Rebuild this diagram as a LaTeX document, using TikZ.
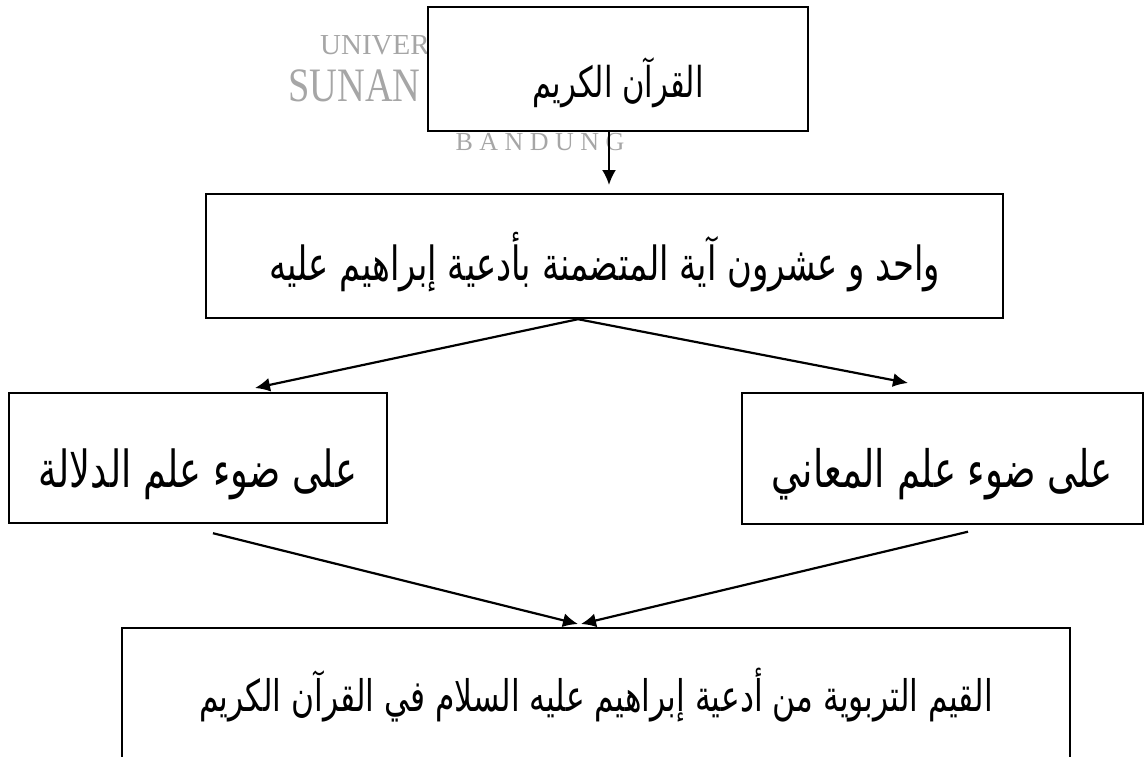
\documentclass[tikz,border=0pt]{standalone}
\usepackage{fontspec}
\usetikzlibrary{arrows.meta}
\newfontfamily\arabicfont[Script=Arabic, FakeStretch=0.72]{DejaVu Sans}
\newfontfamily\markfont{Liberation Serif}
\TeXXeTstate=1
\newcommand{\artext}[1]{\arabicfont\beginR #1\endR}

\begin{document}
\begin{tikzpicture}[x=1pt, y=-1pt]
  \tikzstyle{every node} = [inner sep = 0pt]
  \tikzset{box/.style = {draw, line width = 2.4pt, fill = white,
                         text height = 62pt, text depth = 4pt,
                         font = \fontsize{#1}{#1}\selectfont},
           box/.default = 40,
           arrow/.style = {-{Latex[length = 15pt, width = 14pt]}, line width = 2.2pt},
           wmark/.style = {text = black!35, font = \markfont}}
  \useasboundingbox (0,0) rectangle (1145,757);
  \clip (0,0) rectangle (1145,757);

  % watermark behind the top box
  \node[wmark, anchor = base west, font = \markfont\fontsize{29}{31}\selectfont] (wm1) at (320,55) {UNIVER};
  \node[wmark, anchor = base west, font = \markfont\fontsize{48}{50}\selectfont\addfontfeature{FakeStretch = 0.8}] (wm2) at (288,102) {SUNAN};
  \node[wmark, anchor = base, font = \markfont\fontsize{26}{30}\selectfont\addfontfeature{LetterSpace = 25}] (wm3) at (540,150) {BANDUNG};

  % boxes
  \node[box = 42.5, minimum width = 380pt, minimum height = 124pt] (quran) at (618,69) {\artext{القرآن الكريم}};
  \node[box = 47, minimum width = 797pt, minimum height = 124pt, text height = 52pt] (ayat) at (604.5,256) {\artext{واحد و عشرون آية المتضمنة بأدعية إبراهيم عليه}};
  \node[box = 51, minimum width = 378pt, minimum height = 130pt] (dalalah) at (198,458) {\artext{على ضوء علم الدلالة}};
  \node[box = 51.5, minimum width = 401pt, minimum height = 131pt] (maani) at (942.5,458.5) {\artext{على ضوء علم المعاني}};
  \node[box = 43.5, minimum width = 948pt, minimum height = 170pt, text height = 20pt, text depth = 24pt] (qiyam) at (596,713) {\artext{القيم التربوية من أدعية إبراهيم عليه السلام في القرآن الكريم}};

  % free ends of the arrows
  \coordinate (t1) at (609,185);
  \coordinate (t2) at (255,388);
  \coordinate (t3) at (908,383);
  \coordinate (t4) at (578,624);
  \coordinate (t5) at (581,624);

  \draw[arrow] (quran.south -| t1) -- (t1);
  \draw[arrow] ([xshift = -26.5pt]ayat.south) -- (t2);
  \draw[arrow] ([xshift = -26.5pt]ayat.south) -- (t3);
  \draw[arrow] ([xshift = 15pt, yshift = -9pt]dalalah.south) -- (t4);
  \draw[arrow] ([xshift = 25.5pt, yshift = -6.5pt]maani.south) -- (t5);
\end{tikzpicture}
\end{document}
